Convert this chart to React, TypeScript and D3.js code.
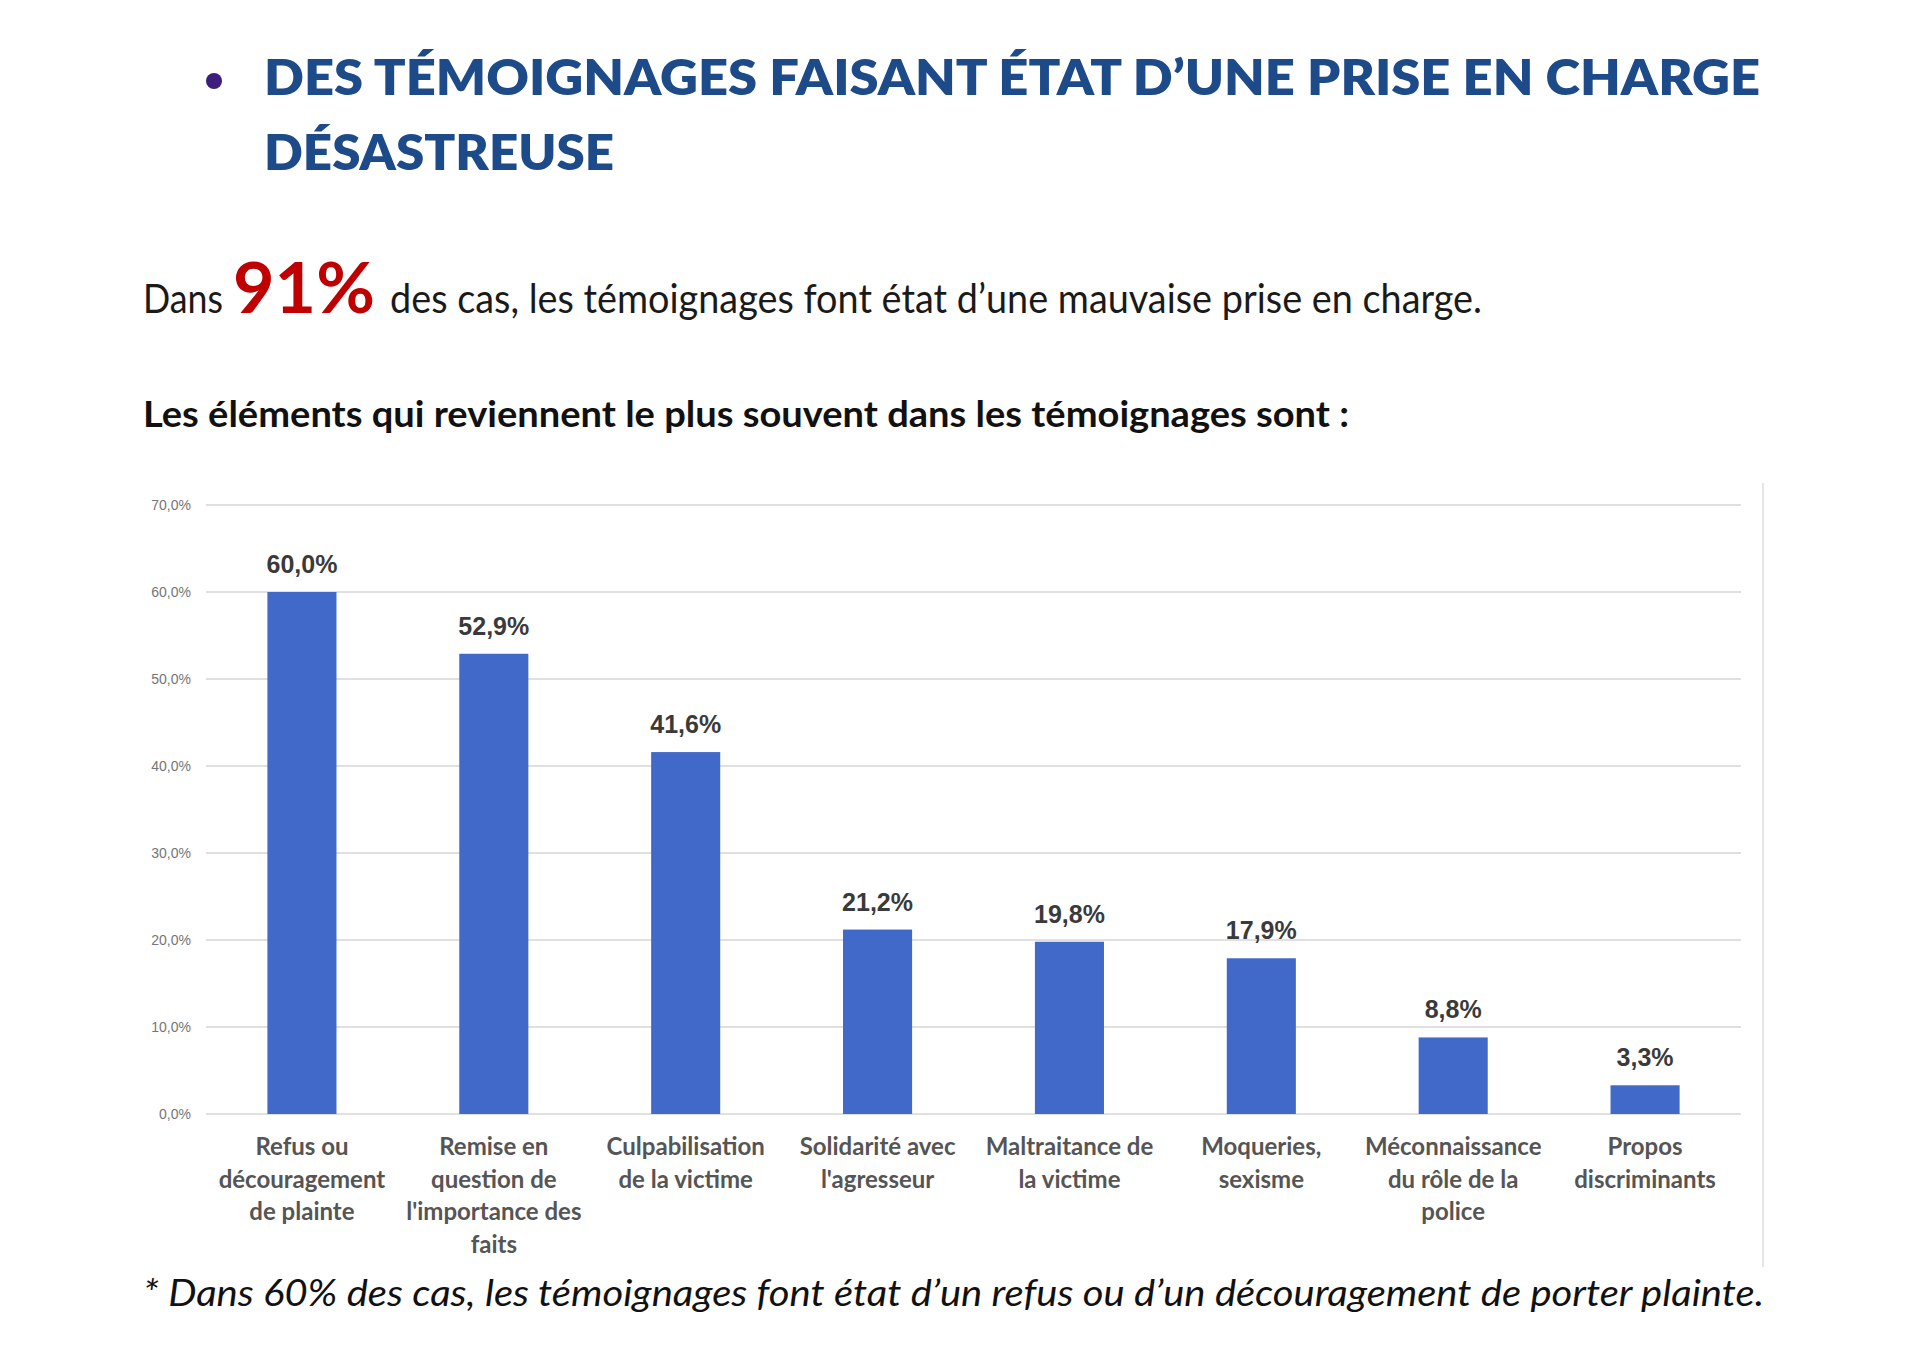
import React from "react";
import * as d3 from "d3";

const categories: string[][] = [
  ["Refus ou", "découragement", "de plainte"],
  ["Remise en", "question de", "l'importance des", "faits"],
  ["Culpabilisation", "de la victime"],
  ["Solidarité avec", "l'agresseur"],
  ["Maltraitance de", "la victime"],
  ["Moqueries,", "sexisme"],
  ["Méconnaissance", "du rôle de la", "police"],
  ["Propos", "discriminants"],
];
const values: number[] = [60.0, 52.9, 41.6, 21.2, 19.8, 17.9, 8.8, 3.3];
const yTicks: number[] = [0, 10, 20, 30, 40, 50, 60, 70];

const titleLines = ["DES TÉMOIGNAGES FAISANT ÉTAT D’UNE PRISE EN CHARGE", "DÉSASTREUSE"];
const introBefore = "Dans";
const introHighlight = "91%";
const introAfter = "des cas, les témoignages font état d’une mauvaise prise en charge.";
const subtitle = "Les éléments qui reviennent le plus souvent dans les témoignages sont :";
const footnote = "* Dans 60% des cas, les témoignages font état d’un refus ou d’un découragement de porter plainte.";

const fmt = (v: number) => v.toFixed(1).replace(".", ",") + "%";

export default function App() {
  const W = 1920;
  const H = 1347;
  const plot = { left: 206, right: 1741, top: 505, bottom: 1114 };
  const x = d3
    .scaleBand<number>()
    .domain(values.map((_, i) => i))
    .range([plot.left, plot.right])
    .paddingInner(0.64)
    .paddingOuter(0.32);
  const y = d3.scaleLinear().domain([0, 70]).range([plot.bottom, plot.top]);

  const sans = "Lato, 'Open Sans', sans-serif";
  const arial = "'Liberation Sans', Arial, sans-serif";

  return (
    <>
      <style>{`body{margin:0;background:#fff}`}</style>
      <svg width={W} height={H} viewBox={`0 0 ${W} ${H}`} style={{ display: "block" }}>
        <rect width={W} height={H} fill="#ffffff" />
        {/* Title */}
        <circle cx={214} cy={81} r={8} fill="#3d1d7d" />
        <text x={264} y={95} fontFamily={sans} fontWeight={800} fontSize={50} fill="#1d4a88"
          textLength={1496} lengthAdjust="spacingAndGlyphs">{titleLines[0]}</text>
        <text x={264} y={170} fontFamily={sans} fontWeight={800} fontSize={50} fill="#1d4a88"
          textLength={350} lengthAdjust="spacingAndGlyphs">{titleLines[1]}</text>

        {/* Intro */}
        <text x={143} y={313} fontFamily={sans} fontSize={41} fill="#1a1a1a"
          textLength={80} lengthAdjust="spacingAndGlyphs">{introBefore}</text>
        <text x={233} y={313} fontFamily={sans} fontWeight={700} fontSize={70} fill="#c00000"
          textLength={142} lengthAdjust="spacingAndGlyphs">{introHighlight}</text>
        <text x={390} y={313} fontFamily={sans} fontSize={41} fill="#1a1a1a"
          textLength={1092} lengthAdjust="spacingAndGlyphs">{introAfter}</text>

        <text x={143} y={427} fontFamily={sans} fontWeight={700} fontSize={37} fill="#111"
          textLength={1206} lengthAdjust="spacingAndGlyphs">{subtitle}</text>

        {/* Chart frame right edge */}
        <line x1={1763} x2={1763} y1={483} y2={1267} stroke="#e6e6e6" strokeWidth={2} />

        {/* Gridlines & y ticks */}
        {yTicks.map((t) => (
          <g key={t}>
            <line x1={plot.left} x2={plot.right} y1={y(t)} y2={y(t)} stroke="#e0e0e0" strokeWidth={2} />
            <text x={191} y={y(t)} dy="0.35em" textAnchor="end" fontFamily={arial} fontSize={14} fill="#757575">
              {fmt(t)}
            </text>
          </g>
        ))}

        {/* Bars */}
        {values.map((v, i) => (
          <g key={i}>
            <rect x={x(i)!} y={y(v)} width={x.bandwidth()} height={y(0) - y(v)} fill="#4169c9" />
            <text x={x(i)! + x.bandwidth() / 2} y={y(v) - 19} textAnchor="middle" fontFamily={arial}
              fontWeight={700} fontSize={25} fill="#3a3a3a">
              {fmt(v)}
            </text>
          </g>
        ))}

        {/* Category labels */}
        {categories.map((lines, i) => (
          <text key={i} textAnchor="middle" fontFamily={sans} fontWeight={700} fontSize={24} fill="#555555">
            {lines.map((l, j) => (
              <tspan key={j} x={x(i)! + x.bandwidth() / 2} y={1155 + j * 32.5}>{l}</tspan>
            ))}
          </text>
        ))}

        {/* Footnote */}
        <text x={143} y={1306} fontFamily={sans} fontStyle="italic" fontSize={37} fill="#111"
          textLength={1621} lengthAdjust="spacingAndGlyphs">{footnote}</text>
      </svg>
    </>
  );
}
